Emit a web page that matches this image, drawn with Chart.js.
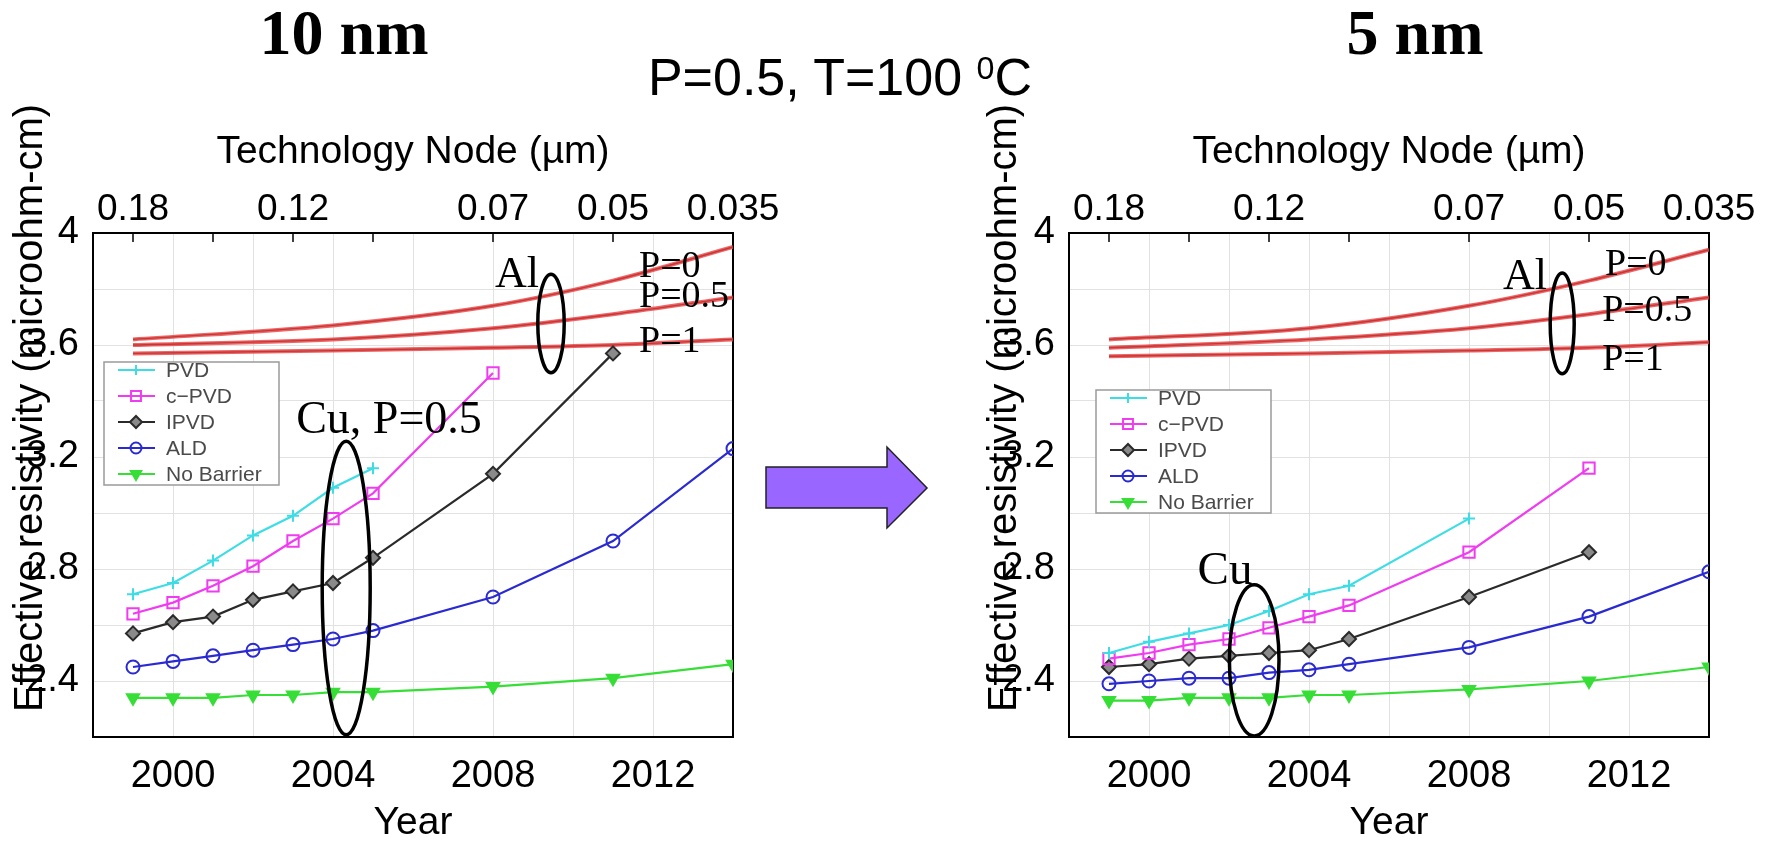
<!DOCTYPE html>
<html>
<head>
<meta charset="utf-8">
<title>Effective resistivity, 10 nm vs 5 nm barrier</title>
<script src="https://cdn.jsdelivr.net/npm/chart.js@4.4.1/dist/chart.umd.min.js"></script>
<style>
  body { margin: 0; width: 1777px; height: 843px; background: #fff; position: relative; overflow: hidden; }
  .box { position: absolute; top: 0; width: 800px; height: 843px; }
  #leftBox { left: 0; }
  #rightBox { left: 976px; }
  .heading { position: absolute; top: 1px; width: 240px; text-align: center;
             font: bold 64px/64px "Liberation Serif", "Times New Roman", serif; }
  #cond { position: absolute; left: 600px; width: 480px; top: 51px; text-align: center;
          font: 52px/52px "Liberation Sans", Arial, sans-serif; }
  #cond .deg { position: relative; top: -0.5em; font-size: 0.62em; }
  #arrow { position: absolute; left: 760px; top: 440px; }
</style>
</head>
<body>
<div class="box" id="leftBox"><canvas id="chartLeft" width="800" height="843"></canvas></div>
<div class="box" id="rightBox"><canvas id="chartRight" width="800" height="843"></canvas></div>
<div class="heading" style="left:224px">10 nm</div>
<div class="heading" style="left:1295px">5 nm</div>
<div id="cond">P=0.5, T=100 <span class="deg">0</span>C</div>
<svg id="arrow" width="180" height="100">
  <polygon points="6,27 127,27 127,7 167,48 127,88 127,68 6,68" fill="#9966ff" stroke="#222" stroke-width="1.5"/>
</svg>

<script>
// Years and node labels
const cuYears = [1999, 2000, 2001, 2002, 2003, 2004, 2005, 2008, 2011, 2014];
const alYears = [1999, 2004, 2008, 2011, 2014];
const nodeYears = [1999, 2001, 2003, 2005, 2008, 2011, 2014];
const nodeLabels = ['0.18', '', '0.12', '', '0.07', '0.05', '0.035'];
const seriesNames = ['PVD', 'c\u2212PVD', 'IPVD', 'ALD', 'No Barrier'];

// 10 nm barrier (left)
const pvd10 = [2.71, 2.75, 2.83, 2.92, 2.99, 3.09, 3.16];
const cpvd10 = [2.64, 2.68, 2.74, 2.81, 2.90, 2.98, 3.07, 3.50];
const ipvd10 = [2.57, 2.61, 2.63, 2.69, 2.72, 2.75, 2.84, 3.14, 3.57];
const ald10 = [2.45, 2.47, 2.49, 2.51, 2.53, 2.55, 2.58, 2.70, 2.90, 3.23];
const noBarrier10 = [2.34, 2.34, 2.34, 2.35, 2.35, 2.36, 2.36, 2.38, 2.41, 2.46];
const alP0_10 = [3.62, 3.67, 3.74, 3.83, 3.95];
const alP05_10 = [3.60, 3.62, 3.66, 3.71, 3.77];
const alP1_10 = [3.57, 3.58, 3.59, 3.60, 3.62];

// 5 nm barrier (right)
const pvd5 = [2.50, 2.54, 2.57, 2.60, 2.65, 2.71, 2.74, 2.98];
const cpvd5 = [2.48, 2.50, 2.53, 2.55, 2.59, 2.63, 2.67, 2.86, 3.16];
const ipvd5 = [2.45, 2.46, 2.48, 2.49, 2.50, 2.51, 2.55, 2.70, 2.86];
const ald5 = [2.39, 2.40, 2.41, 2.41, 2.43, 2.44, 2.46, 2.52, 2.63, 2.79];
const noBarrier5 = [2.33, 2.33, 2.34, 2.34, 2.34, 2.35, 2.35, 2.37, 2.40, 2.45];
const alP0_5 = [3.62, 3.66, 3.74, 3.83, 3.94];
const alP05_5 = [3.59, 3.62, 3.66, 3.71, 3.77];
const alP1_5 = [3.56, 3.57, 3.58, 3.59, 3.61];

const cuStyles = [
    { borderColor: '#3edde6', pointStyle: 'cross', pointRadius: 6, pointBackgroundColor: '#3edde6' },
    { borderColor: '#f03cf0', pointStyle: 'rect', pointRadius: 8, pointBackgroundColor: 'rgba(0,0,0,0)' },
    { borderColor: '#2a2a2a', pointStyle: 'rectRot', pointRadius: 7, pointBackgroundColor: '#8a8a8a' },
    { borderColor: '#2a2ad2', pointStyle: 'circle', pointRadius: 6.5, pointBackgroundColor: 'rgba(0,0,0,0)' },
    { borderColor: '#36de36', pointStyle: 'triangle', pointRadius: 7, pointRotation: 180, pointBackgroundColor: '#36de36' }
];

const SANS = '"Liberation Sans", Arial, sans-serif';
const SERIF = '"Liberation Serif", "Times New Roman", serif';

function cuSets(values) {
    return values.map((vals, i) => Object.assign({
        label: seriesNames[i],
        data: vals.map((v, j) => ({ x: cuYears[j], y: v })),
        borderWidth: 2.2,
        pointBorderWidth: 2,
        tension: 0
    }, cuStyles[i]));
}

function alSets(curves) {
    const out = [];
    curves.forEach(c => {
        const data = c.vals.map((v, j) => ({ x: alYears[j], y: v }));
        out.push({ label: c.name, data, borderColor: 'rgba(232,64,64,0.8)', borderWidth: 4,
                   pointRadius: 0, cubicInterpolationMode: 'monotone', noLegend: true });
        out.push({ label: c.name, data, borderColor: '#4a0b0b', borderWidth: 1.4,
                   pointRadius: 0, cubicInterpolationMode: 'monotone', noLegend: true });
    });
    return out;
}

// plot frame + small top tick marks
const framePlugin = {
    id: 'frame',
    beforeDatasetsDraw(chart) {
        const { ctx, chartArea: a } = chart;
        const top = chart.scales.x2;
        ctx.save();
        ctx.strokeStyle = '#000';
        ctx.lineWidth = 2;
        ctx.strokeRect(a.left, a.top, a.right - a.left, a.bottom - a.top);
        ctx.lineWidth = 1.5;
        nodeYears.forEach(v => {
            const px = top.getPixelForValue(v);
            ctx.beginPath();
            ctx.moveTo(px, a.top);
            ctx.lineTo(px, a.top + 9);
            ctx.stroke();
        });
        ctx.restore();
    }
};

const boxLegendPlugin = {
    id: 'boxLegend',
    afterDatasetsDraw(chart, args, opts) {
        const { ctx, chartArea: a } = chart;
        const x0 = a.left + opts.dx, y0 = a.top + opts.dy;
        const items = chart.data.datasets.filter(d => !d.noLegend);
        ctx.save();
        ctx.fillStyle = '#fff';
        ctx.fillRect(x0, y0, 175, 123);
        ctx.strokeStyle = '#9a9a9a';
        ctx.lineWidth = 1.5;
        ctx.strokeRect(x0, y0, 175, 123);
        ctx.font = '21px ' + SANS;
        ctx.textBaseline = 'middle';
        ctx.textAlign = 'left';
        items.forEach((d, i) => {
            const cy = y0 + 8 + i * 26;
            ctx.strokeStyle = d.borderColor;
            ctx.lineWidth = 2;
            ctx.beginPath();
            ctx.moveTo(x0 + 14, cy);
            ctx.lineTo(x0 + 51, cy);
            ctx.stroke();
            ctx.fillStyle = d.pointBackgroundColor;
            Chart.helpers.drawPoint(ctx, {
                pointStyle: d.pointStyle, rotation: d.pointRotation || 0,
                radius: d.pointRadius - 1, borderWidth: 2
            }, x0 + 32, cy);
            ctx.fillStyle = '#4a4a4a';
            ctx.fillText(d.label, x0 + 62, cy + 1);
        });
        ctx.restore();
    }
};

// ellipses and serif labels placed in data coordinates
const notesPlugin = {
    id: 'notes',
    afterDatasetsDraw(chart, args, opts) {
        const { ctx, scales: { x, y } } = chart;
        ctx.save();
        ctx.strokeStyle = '#000';
        ctx.lineWidth = 3.5;
        opts.rings.forEach(r => {
            const cx = x.getPixelForValue(r.x), cy = y.getPixelForValue(r.y);
            const rx = Math.abs(x.getPixelForValue(r.x + r.rx) - cx);
            const ry = Math.abs(y.getPixelForValue(r.y + r.ry) - cy);
            ctx.beginPath();
            ctx.ellipse(cx, cy, rx, ry, 0, 0, Math.PI * 2);
            ctx.stroke();
        });
        ctx.fillStyle = '#000';
        ctx.textBaseline = 'middle';
        opts.labels.forEach(t => {
            ctx.font = t.size + 'px ' + SERIF;
            ctx.textAlign = t.align;
            ctx.fillText(t.text, x.getPixelForValue(t.x), y.getPixelForValue(t.y));
        });
        ctx.restore();
    }
};

const yTitlePlugin = {
    id: 'yTitle',
    afterDraw(chart, args, opts) {
        const ctx = chart.ctx;
        ctx.save();
        ctx.translate(opts.x, opts.y);
        ctx.rotate(-Math.PI / 2);
        ctx.font = '40px ' + SANS;
        ctx.fillStyle = '#000';
        ctx.textAlign = 'center';
        ctx.textBaseline = 'middle';
        ctx.fillText('Effective resistivity (microohm-cm)', 0, 0);
        ctx.restore();
    }
};

function makeChart(canvasId, cu, al, extra) {
    const ctx = document.getElementById(canvasId).getContext('2d');
    return new Chart(ctx, {
        type: 'line',
        data: { datasets: cuSets(cu).concat(alSets(al)) },
        plugins: [framePlugin, boxLegendPlugin, notesPlugin, yTitlePlugin],
        options: {
            responsive: false,
            animation: false,
            layout: { padding: { left: 0, right: 67, top: 0, bottom: 0 } },
            plugins: {
                legend: { display: false },
                tooltip: { enabled: false },
                boxLegend: extra.legend,
                notes: extra.notes,
                yTitle: extra.yTitle
            },
            scales: {
                x: {
                    type: 'linear', position: 'bottom', min: 1998, max: 2014,
                    afterFit: s => { s.height = 106; },
                    grid: { color: '#e2e2e2', drawTicks: false },
                    border: { display: false },
                    ticks: {
                        stepSize: 2, padding: 17, color: '#000', maxRotation: 0, autoSkip: false,
                        font: { family: SANS, size: 38 },
                        callback: v => (v % 4 === 0 ? String(v) : '')
                    },
                    title: {
                        display: true, text: 'Year', color: '#000',
                        font: { family: SANS, size: 39, lineHeight: 1 },
                        padding: { top: 0, bottom: 0 }
                    }
                },
                x2: {
                    type: 'linear', position: 'top', min: 1998, max: 2014,
                    afterBuildTicks: s => { s.ticks = nodeYears.map(v => ({ value: v })); },
                    afterFit: s => { s.height = 233; },
                    grid: { display: false, drawTicks: false },
                    border: { display: false },
                    ticks: {
                        padding: 1, color: '#000', maxRotation: 0, autoSkip: false,
                        font: { family: SANS, size: 37 },
                        callback: (v, i) => nodeLabels[i]
                    },
                    title: {
                        display: true, text: 'Technology Node (\u00b5m)', color: '#000',
                        font: { family: SANS, size: 39, lineHeight: 1 },
                        padding: { top: 133, bottom: 0 }
                    }
                },
                y: {
                    min: 2.2, max: 4.0,
                    afterFit: s => { s.width = 93; },
                    grid: { color: '#e2e2e2', drawTicks: false },
                    border: { display: false },
                    ticks: {
                        stepSize: 0.2, padding: 14, color: '#000',
                        font: { family: SANS, size: 38 },
                        callback: v => {
                            const k = Math.round(v * 10);
                            if (k % 4 !== 0) return '';
                            return k === 40 ? '4' : (k / 10).toFixed(1);
                        }
                    }
                }
            }
        }
    });
}

makeChart('chartLeft',
    [pvd10, cpvd10, ipvd10, ald10, noBarrier10],
    [{ name: 'Al P=0', vals: alP0_10 }, { name: 'Al P=0.5', vals: alP05_10 }, { name: 'Al P=1', vals: alP1_10 }],
    {
        legend: { dx: 11, dy: 129 },
        yTitle: { x: 31, y: 408 },
        notes: {
            rings: [
                { x: 2009.45, y: 3.677, rx: 0.33, ry: 0.176 },
                { x: 2004.33, y: 2.732, rx: 0.6, ry: 0.524 }
            ],
            labels: [
                { text: 'Al', x: 2008.6, y: 3.85, align: 'center', size: 44 },
                { text: 'P=0', x: 2011.65, y: 3.88, align: 'left', size: 38 },
                { text: 'P=0.5', x: 2011.65, y: 3.77, align: 'left', size: 38 },
                { text: 'P=1', x: 2011.65, y: 3.61, align: 'left', size: 38 },
                { text: 'Cu, P=0.5', x: 2005.4, y: 3.33, align: 'center', size: 46 }
            ]
        }
    });

makeChart('chartRight',
    [pvd5, cpvd5, ipvd5, ald5, noBarrier5],
    [{ name: 'Al P=0', vals: alP0_5 }, { name: 'Al P=0.5', vals: alP05_5 }, { name: 'Al P=1', vals: alP1_5 }],
    {
        legend: { dx: 27, dy: 157 },
        yTitle: { x: 29, y: 408 },
        notes: {
            rings: [
                { x: 2010.33, y: 3.677, rx: 0.3, ry: 0.18 },
                { x: 2002.63, y: 2.474, rx: 0.62, ry: 0.27 }
            ],
            labels: [
                { text: 'Al', x: 2009.4, y: 3.84, align: 'center', size: 44 },
                { text: 'P=0', x: 2011.4, y: 3.885, align: 'left', size: 38 },
                { text: 'P=0.5', x: 2011.33, y: 3.72, align: 'left', size: 38 },
                { text: 'P=1', x: 2011.33, y: 3.545, align: 'left', size: 38 },
                { text: 'Cu', x: 2001.9, y: 2.79, align: 'center', size: 47 }
            ]
        }
    });
</script>
</body>
</html>
